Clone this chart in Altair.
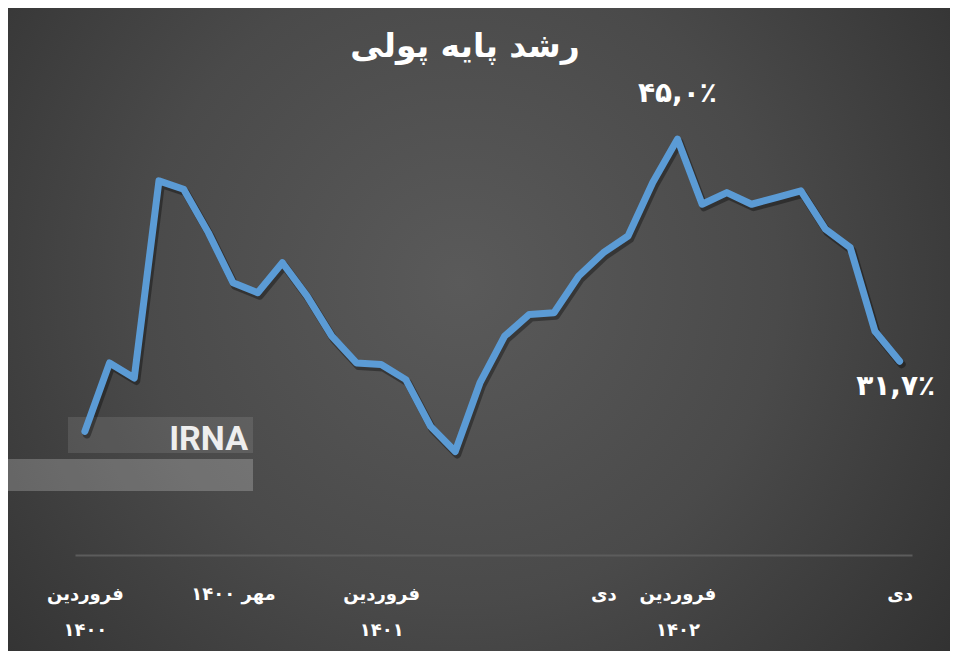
import json
import altair as alt
import pandas as pd

# monthly index: 0 = Farvardin 1400 ... 33 = Dey 1402
months = list(range(34))
growth = [27.5, 31.6, 30.7, 42.5, 42.0, 39.4, 36.4, 35.8, 37.6, 35.6,
          33.2, 31.6, 31.5, 30.6, 27.8, 26.3, 30.4, 33.2, 34.5, 34.6,
          36.8, 38.2, 39.2, 42.4, 45.0, 41.1, 41.8, 41.1, 41.5, 41.9,
          39.6, 38.5, 33.5, 31.7]

tick_positions = [0, 6, 12, 21, 24, 33]
tick_labels = [["فروردین", "۱۴۰۰"], "مهر ۱۴۰۰", ["فروردین", "۱۴۰۱"],
               "دی", ["فروردین", "۱۴۰۲"], "دی"]

label_months = [24, 33]
label_texts = ["۴۵,۰٪", "۳۱,۷٪"]

title_text = "رشد پایه پولی"
watermark_text = "IRNA"

FONT = "DejaVu Sans"
W, H = 837, 466
PAD = {"left": 67, "top": 81, "right": 38, "bottom": 96}

df = pd.DataFrame({"m": months, "v": growth})
lab_df = pd.DataFrame({"m": label_months, "v": [growth[i] for i in label_months],
                       "t": label_texts})
one = pd.DataFrame({"k": [0]})

expr = "''"
for pos, lab in reversed(list(zip(tick_positions, tick_labels))):
    expr = f"datum.value == {pos} ? {json.dumps(lab, ensure_ascii=False)} : ({expr})"

xscale = alt.Scale(domain=[-0.4, 33.5], nice=False, zero=False)
yscale = alt.Scale(domain=[20.1, 48], nice=False, zero=False)

x_enc = alt.X("m:Q", scale=xscale,
              axis=alt.Axis(values=tick_positions, labelExpr=expr, title=None,
                            grid=False, ticks=False, domainColor="#5c5c5c",
                            domainWidth=2, labelColor="white", labelFontSize=18,
                            labelFontWeight="bold",
                            labelFont=FONT, labelLineHeight=36, labelPadding=30,
                            labelOverlap=False, labelFlush=False,
                            labelBaseline="top", zindex=1))
y_enc = alt.Y("v:Q", scale=yscale, axis=None)

grad = alt.RadialGradient(
    gradient="radial",
    stops=[alt.GradientStop(color="#5a5a5a", offset=0),
           alt.GradientStop(color="#4a4a4a", offset=0.45),
           alt.GradientStop(color="#2a2a2a", offset=1)],
    x1=0.48, y1=0.45, r1=0, x2=0.48, y2=0.45, r2=0.75)

bg = alt.Chart(one).mark_rect(color=grad).encode(
    x=alt.value(-PAD["left"]), x2=alt.value(W + PAD["right"]),
    y=alt.value(-PAD["top"]), y2=alt.value(H + PAD["bottom"]))

band = alt.Chart(one).mark_rect(color="white", opacity=0.22).encode(
    x=alt.value(-PAD["left"]), x2=alt.value(178),
    y=alt.value(370), y2=alt.value(402))
box = alt.Chart(one).mark_rect(color="white", opacity=0.1).encode(
    x=alt.value(-7), x2=alt.value(178),
    y=alt.value(328), y2=alt.value(364))
wm = alt.Chart(one).mark_text(text=watermark_text, font="Roboto",
                               fontSize=34, fontWeight="bold", color="#eeeeee",
                               align="right", baseline="alphabetic").encode(
    x=alt.value(173), y=alt.value(361))

shadow = alt.Chart(df).mark_line(color="black", opacity=0.35, strokeWidth=8,
                                 xOffset=2, yOffset=3, strokeJoin="round",
                                 strokeCap="round").encode(x=x_enc, y=y_enc)
line = alt.Chart(df).mark_line(color="#5b9bd5", strokeWidth=7, strokeJoin="round",
                               strokeCap="round").encode(x=x_enc, y=y_enc)

peak = alt.Chart(lab_df[lab_df.m == 24]).mark_text(
    font=FONT, fontSize=28, fontWeight="bold", color="white", dy=-45,
    baseline="middle").encode(x=x_enc, y=y_enc, text="t:N")
end = alt.Chart(lab_df[lab_df.m == 33]).mark_text(
    font=FONT, fontSize=28, fontWeight="bold", color="white", dy=26, dx=-4,
    baseline="middle").encode(x=x_enc, y=y_enc, text="t:N")

title = alt.Chart(one).mark_text(text=title_text, font=FONT, fontSize=33,
                                 fontWeight="bold", color="white",
                                 baseline="middle").encode(
    x=alt.value(390), y=alt.value(-42))

chart = alt.layer(bg, box, band, wm, shadow, line, peak, end, title).properties(
    width=W, height=H, padding=PAD, autosize="none", background="#333333"
).configure_view(stroke=None)

chart.save("out.html", embed_options={"renderer": "svg", "actions": False})
